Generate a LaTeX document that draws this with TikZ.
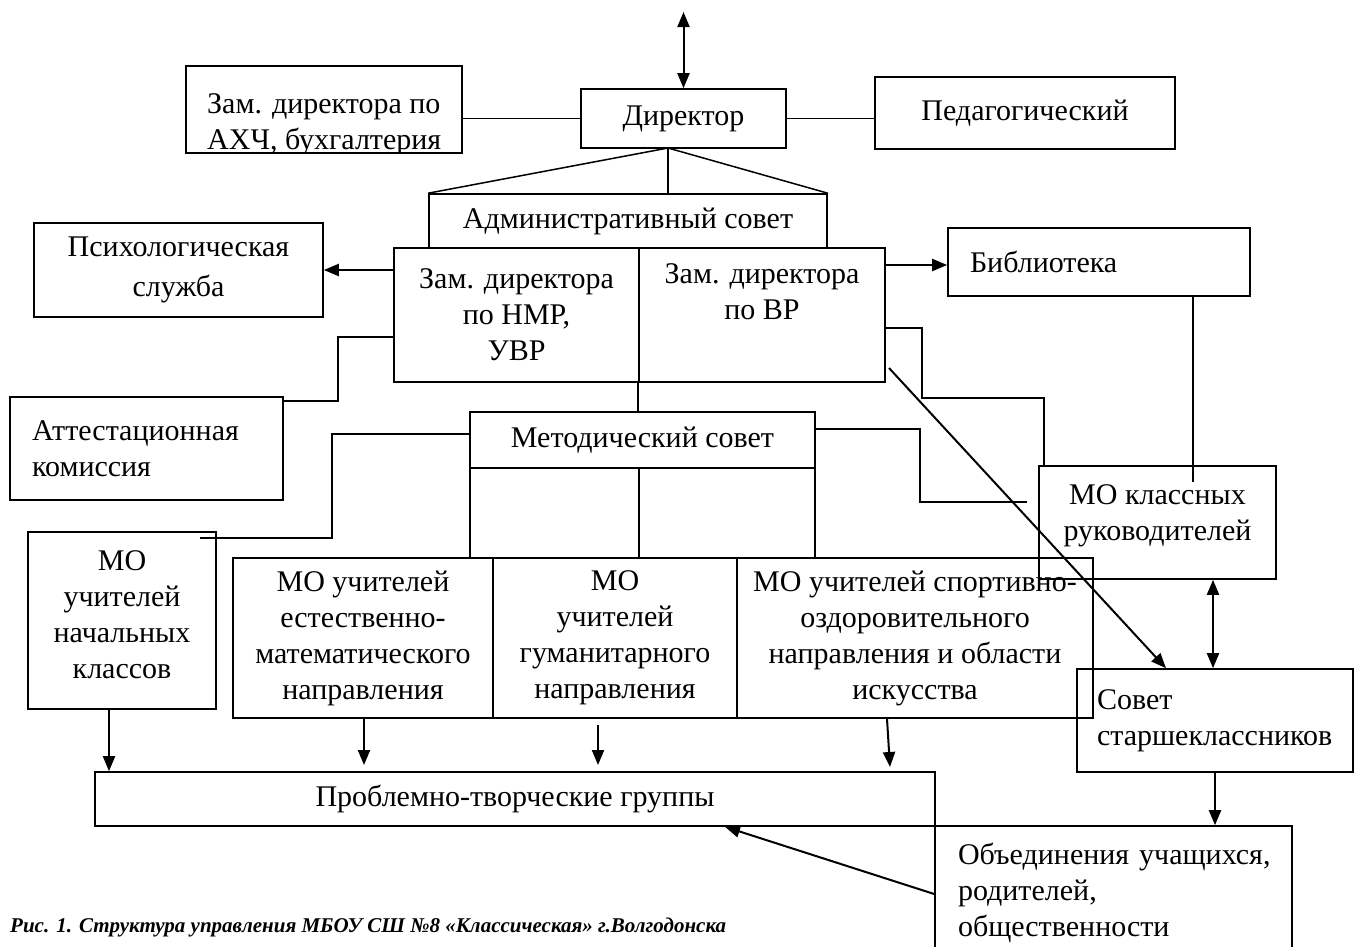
\documentclass[tikz,border=0pt]{standalone}
\usepackage{fontspec}
\setmainfont{Liberation Serif}
\usetikzlibrary{arrows.meta}
\tikzset{
  txt/.style={font=\fontsize{30}{36}\selectfont},
  box/.style={draw, line width=1.6pt, inner sep=0pt, align=center, txt},
  lbox/.style={box, align=left},
  conn/.style={line width=1.5pt},
  arr/.style={line width=2pt, -{Triangle[length=15pt,width=12pt]}},
  dblarr/.style={line width=2pt, {Triangle[length=15pt,width=12pt]}-{Triangle[length=15pt,width=12pt]}},
}
\begin{document}
\begin{tikzpicture}[x=1pt,y=-1pt]
    \useasboundingbox (0,0) rectangle (1355,946);
    % director level
    \node[box, minimum width=205, minimum height=59] (dir) at (683.5,118.5) {Директор};
    \node[box, minimum width=276, minimum height=87] (zam) at (324,109.5) {};
    \begin{scope}
        \clip (zam.south west) rectangle (zam.north east);
        \node[txt, anchor=base west, inner sep=0pt] (zam1) at (207,113) {Зам. директора по};
        \node[txt, anchor=base west, inner sep=0pt] (zam2) at (207,149) {АХЧ, бухгалтерия};
    \end{scope}
    \node[box, minimum width=300, minimum height=72] (ped) at (1025,113) {Педагогический};
    \coordinate (topend) at (683.5,12);
    \draw[dblarr] (topend) -- (dir.north);
    \draw[conn] (dir.west) -- (dir.west -| zam.east);
    \draw[conn] (dir.east) -- (dir.east -| ped.west);
    % administration
    \node[box, minimum width=398, minimum height=54] (admin) at (628,221) {Административный совет};
    \coordinate (apex) at (668,148);
    \draw[conn] (apex) -- (admin.north west);
    \draw[conn] (apex) -- (admin.north east);
    \draw[conn] (apex) -- (apex |- admin.north);
    \node[box, minimum width=245, minimum height=134] (nmr) at (516.5,315) {Зам. директора\\по НМР,\\УВР};
    \node[box, minimum width=246, minimum height=134] (vr) at (762,315) {Зам. директора\\по ВР\\ \strut};
    \node[box, minimum width=289, minimum height=94] (psy) at (178.5,270) {Психологическая\\[4pt]служба};
    \node[lbox, text width=258, minimum width=302, minimum height=68] (bib) at (1099,262) {Библиотека};
    \node[lbox, text width=229, minimum width=273, minimum height=103] (att) at (146.5,448.5) {Аттестационная\\комиссия};
    \draw[arr] (nmr.west |- psy.east) -- (psy.east);
    \draw[conn] (nmr.west |- 0,337) -- (338,337) -- (338,401) -- (att.east |- 0,401);
    \draw[arr] (vr.east |- 0,265) -- (bib.west |- 0,265);
    % methodical council
    \node[box, minimum width=345, minimum height=56] (ms) at (642.5,440) {Методический совет};
    \node[box, minimum width=237, minimum height=113] (mok) at (1157.5,522.5) {МО классных\\руководителей\\[-16pt]};
    \draw[conn] (vr.south west) -- (vr.south west |- ms.north);
    \draw[conn] (vr.east |- 0,328) -- (922,328) -- (922,398) -- (1044,398) -- (1044,398 |- mok.north);
    \draw[conn] (1193,0 |- bib.south) -- (1193,482);
    \draw[conn] (ms.east |- 0,429) -- (920,429) -- (920,502) -- (1027,502);
    \draw[conn] (ms.west |- 0,434) -- (332,434) -- (332,538) -- (200,538);
    % MO row
    \node[box, minimum width=188, minimum height=177] (mon) at (122,620.5) {МО\\учителей\\начальных\\классов\\[-24pt]};
    \node[box, minimum width=260, minimum height=160] (mem) at (363,638) {МО учителей\\естественно-\\математического\\направления};
    \node[box, minimum width=244, minimum height=160] (mgum) at (615,638) {МО\\учителей\\гуманитарного\\направления};
    \node[box, minimum width=356, minimum height=160] (msport) at (915,638) {МО учителей спортивно-\\оздоровительного\\направления и области\\искусства};
    \foreach \x in {470,639,815}
        \draw[conn] (\x,0 |- ms.south) -- (\x,0 |- mem.north);
    % bottom
    \node[box, minimum width=840, minimum height=54] (pg) at (515,799) {Проблемно-творческие группы};
    \node[lbox, text width=236, minimum width=276, minimum height=103] (sov) at (1215,720.5) {Совет\\старшеклассников};
    \node[lbox, text width=311, minimum width=357, minimum height=134] (obj) at (1113.5,893) {Объединения~учащихся,\\родителей,\\общественности};
    \coordinate (vrdiag) at (889,368);
    \draw[arr] (vrdiag) -- (1166,0 |- sov.north);
    \draw[dblarr] (1213,0 |- mok.south) -- (1213,0 |- sov.north);
    \draw[arr] (109,0 |- mon.south) -- (109,0 |- pg.north);
    \draw[arr] (364,0 |- mem.south) -- (364,765);
    \draw[arr] (598,725) -- (598,765);
    \draw[arr] (887,0 |- msport.south) -- (890,767);
    \draw[arr] (1215,0 |- sov.south) -- (1215,0 |- obj.north);
    \draw[arr] (obj.west |- 0,894) -- (725,0 |- pg.south);
    \node[anchor=base west, inner sep=0pt, font=\fontsize{21}{25}\selectfont\bfseries\itshape] (caption) at (10,932) {Рис. 1. Структура управления МБОУ СШ №8 «Классическая» г.Волгодонска};
\end{tikzpicture}
\end{document}
